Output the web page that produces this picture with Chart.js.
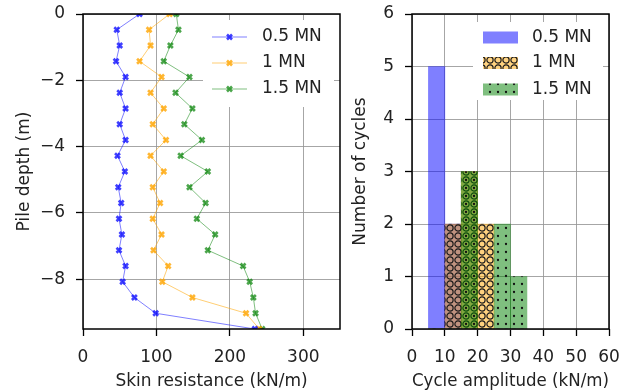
<!DOCTYPE html>
<html>
<head>
<meta charset="utf-8">
<script src="https://cdn.jsdelivr.net/npm/chart.js@4.4.0/dist/chart.umd.min.js"></script>
<style>
  body { margin: 0; background: #fff; }
  #wrap { position: relative; width: 628px; height: 392px; overflow: hidden; }
  canvas { position: absolute; top: 0; }
  #depthChart { left: 0; }
  #cycleChart { left: 350px; }
</style>
</head>
<body>
<div id="wrap">
  <canvas id="depthChart" width="350" height="392"></canvas>
  <canvas id="cycleChart" width="278" height="392"></canvas>
</div>
<script>
// Left panel: skin resistance profile along the pile
var pileDepths = [0, -0.475, -0.95, -1.425, -1.9, -2.375, -2.85, -3.325, -3.8, -4.275, -4.75,
    -5.225, -5.7, -6.175, -6.65, -7.125, -7.6, -8.075, -8.55, -9.025, -9.5];
var resist05 = [77, 46, 50, 45, 58, 50, 58, 50, 58, 47, 57, 48, 52, 49, 53, 49, 58, 54, 70, 99, 234];
var resist10 = [118, 90, 92, 77, 107, 92, 110, 95, 113, 92, 110, 95, 105, 95, 107, 96, 116, 108, 149, 222, 240];
var resist15 = [127, 130, 119, 110, 145, 126, 149, 138, 162, 133, 170, 145, 167, 155, 180, 170, 218, 227, 232, 235, 244];
var depthTicks = [-8, -6, -4, -2, 0];
var resistTicks = [0, 100, 200, 300];

// Right panel: histogram of cycle amplitudes
var binEdges = [5, 10, 15, 20, 25, 30, 35];
var cycles05 = [5, 2, 0, 0, 0, 0];
var cycles10 = [0, 2, 3, 2, 0, 0];
var cycles15 = [0, 0, 3, 0, 2, 1];
var cycleTicks = [0, 1, 2, 3, 4, 5, 6];
var amplitudeTicks = [0, 10, 20, 30, 40, 50, 60];

var loadLabels = ["0.5 MN", "1 MN", "1.5 MN"];

var FONT = "'DejaVu Sans', sans-serif";
var TEXT_COLOR = "#222";
var GRID_COLOR = "rgba(150,150,150,0.85)";

function toPoints(xs, ys) {
    var pts = [];
    for (var i = 0; i < xs.length; i++) {
        pts.push({ x: xs[i], y: ys[i] });
    }
    return pts;
}

function binCenters(edges) {
    var centers = [];
    for (var i = 0; i < edges.length - 1; i++) {
        centers.push((edges[i] + edges[i + 1]) / 2);
    }
    return centers;
}

function minusSign(v) {
    return String(v).replace("-", "\u2212");
}

function fixedTicks(list) {
    return function (scale) {
        scale.ticks = list.map(function (v) { return { value: v }; });
    };
}

// Fix the box size of an axis and drop the extra room Chart.js keeps for end labels.
function fixedSize(prop, size) {
    return function (scale) {
        scale[prop] = size;
        scale.paddingTop = 0;
        scale.paddingBottom = 0;
        scale.paddingLeft = 0;
        scale.paddingRight = 0;
    };
}

function axisOptions(min, max, ticks, title, titlePad, extra) {
    var o = {
        type: "linear",
        min: min,
        max: max,
        afterBuildTicks: fixedTicks(ticks),
        grid: { color: GRID_COLOR, lineWidth: 1, tickColor: "#000", tickLength: 7, tickWidth: 1.3, offset: false },
        border: { display: false },
        ticks: { color: TEXT_COLOR, font: { family: FONT, size: 17 }, padding: 11, callback: minusSign, maxRotation: 0 },
        title: { display: true, text: title, color: TEXT_COLOR, font: { family: FONT, size: 17 }, padding: titlePad }
    };
    for (var k in extra) { o[k] = extra[k]; }
    return o;
}

// Frame around the plot area, like matplotlib spines
var framePlugin = {
    id: "frame",
    afterDraw: function (chart) {
        var a = chart.chartArea;
        var ctx = chart.ctx;
        ctx.save();
        ctx.strokeStyle = "#000";
        ctx.lineWidth = 1.5;
        ctx.strokeRect(a.left, a.top, a.right - a.left, a.bottom - a.top);
        ctx.restore();
    }
};

// Legend drawn in the upper right of the plot area
var boxLegend = {
    id: "boxLegend",
    afterDatasetsDraw: function (chart, args, opts) {
        var ctx = chart.ctx;
        ctx.save();
        ctx.fillStyle = "#fff";
        ctx.fillRect(opts.box[0], opts.box[1], opts.box[2], opts.box[3]);
        ctx.font = "17px " + FONT;
        ctx.textBaseline = "middle";
        for (var i = 0; i < opts.items.length; i++) {
            var item = opts.items[i];
            var y = opts.rows[i];
            opts.drawKey(ctx, item, y);
            ctx.fillStyle = TEXT_COLOR;
            ctx.fillText(item.label, opts.textX, y);
        }
        ctx.restore();
    }
};

// ---------------- depth profile ----------------
var lineColors = ["rgba(0,0,255,0.5)", "rgba(255,165,0,0.55)", "rgba(0,128,0,0.5)"];
var markColors = ["rgba(0,0,255,0.75)", "rgba(255,165,0,0.8)", "rgba(0,128,0,0.7)"];
var resistSeries = [resist05, resist10, resist15];

var depthSets = [];
for (var s = 0; s < resistSeries.length; s++) {
    depthSets.push({
        label: loadLabels[s],
        data: toPoints(resistSeries[s], pileDepths),
        showLine: true,
        borderColor: lineColors[s],
        borderWidth: 1,
        pointStyle: "crossRot",
        pointRadius: 3.5,
        pointBorderWidth: 2.6,
        pointBorderColor: markColors[s],
        pointBackgroundColor: markColors[s]
    });
}

function drawLineKey(ctx, item, y) {
    ctx.strokeStyle = item.line;
    ctx.lineWidth = 1;
    ctx.beginPath();
    ctx.moveTo(212, y);
    ctx.lineTo(247, y);
    ctx.stroke();
    ctx.strokeStyle = item.mark;
    ctx.lineWidth = 2.6;
    ctx.beginPath();
    ctx.moveTo(227, y - 2.5); ctx.lineTo(232, y + 2.5);
    ctx.moveTo(227, y + 2.5); ctx.lineTo(232, y - 2.5);
    ctx.stroke();
}

var depthLegendItems = [];
for (var j = 0; j < loadLabels.length; j++) {
    depthLegendItems.push({ label: loadLabels[j], line: lineColors[j], mark: markColors[j] });
}

new Chart(document.getElementById("depthChart"), {
    type: "scatter",
    data: { datasets: depthSets },
    options: {
        responsive: false,
        animation: false,
        devicePixelRatio: 1,
        layout: { padding: { top: 14, right: 10, left: 0, bottom: 0 } },
        plugins: {
            legend: { display: false },
            tooltip: { enabled: false },
            boxLegend: {
                box: [203, 20, 131, 87],
                rows: [37, 63, 89],
                textX: 262,
                items: depthLegendItems,
                drawKey: drawLineKey
            }
        },
        scales: {
            x: axisOptions(0, 350, resistTicks, "Skin resistance (kN/m)", { top: 0, bottom: 0 }, {
                afterFit: fixedSize("height", 63)
            }),
            y: axisOptions(-9.5, 0, depthTicks, "Pile depth (m)", { top: 14, bottom: 0 }, {
                afterFit: fixedSize("width", 83)
            })
        }
    },
    plugins: [framePlugin, boxLegend]
});

// ---------------- cycle amplitude histogram ----------------
var cycleCanvas = document.getElementById("cycleChart");
var cycleCtx = cycleCanvas.getContext("2d");

function makeHatch(fill, drawMarks) {
    var tile = document.createElement("canvas");
    tile.width = 8;
    tile.height = 8;
    var c = tile.getContext("2d");
    c.fillStyle = fill;
    c.fillRect(0, 0, 8, 8);
    drawMarks(c);
    return cycleCtx.createPattern(tile, "repeat");
}

var blueFill = "rgba(0,0,255,0.5)";
var circleFill = makeHatch("rgba(255,165,0,0.5)", function (c) {
    c.strokeStyle = "#1a1a1a";
    c.lineWidth = 1.2;
    c.beginPath();
    c.arc(4, 4, 3.1, 0, Math.PI * 2);
    c.stroke();
});
var dotFill = makeHatch("rgba(0,128,0,0.5)", function (c) {
    c.fillStyle = "#111";
    c.beginPath();
    c.arc(4, 4, 1.15, 0, Math.PI * 2);
    c.fill();
});

var barFills = [blueFill, circleFill, dotFill];
var cycleSeries = [cycles05, cycles10, cycles15];
var centers = binCenters(binEdges);

var cycleSets = [];
for (var b = 0; b < cycleSeries.length; b++) {
    cycleSets.push({
        label: loadLabels[b],
        data: toPoints(centers, cycleSeries[b]),
        backgroundColor: barFills[b],
        borderWidth: 0,
        barPercentage: 1,
        categoryPercentage: 1,
        grouped: false,
        // first series is painted first, later ones on top
        order: cycleSeries.length - b
    });
}

var cycleLegendItems = [];
for (var m = 0; m < loadLabels.length; m++) {
    cycleLegendItems.push({ label: loadLabels[m], fill: barFills[m] });
}

new Chart(cycleCanvas, {
    type: "bar",
    data: { datasets: cycleSets },
    options: {
        responsive: false,
        animation: false,
        devicePixelRatio: 1,
        layout: { padding: { top: 14, right: 19, left: 0, bottom: 0 } },
        plugins: {
            legend: { display: false },
            tooltip: { enabled: false },
            boxLegend: {
                box: [123, 22, 130, 78],
                rows: [37.5, 63, 89.5],
                textX: 182,
                items: cycleLegendItems,
                drawKey: function (ctx, item, y) {
                    ctx.fillStyle = item.fill;
                    ctx.fillRect(133, y - 6, 35, 12);
                }
            }
        },
        scales: {
            x: axisOptions(0, 60, amplitudeTicks, "Cycle amplitude (kN/m)", { top: 0, bottom: 0 }, {
                offset: false,
                afterFit: fixedSize("height", 63)
            }),
            y: axisOptions(0, 6, cycleTicks, "Number of cycles", { top: 0, bottom: 0 }, {
                afterFit: fixedSize("width", 62)
            })
        }
    },
    plugins: [framePlugin, boxLegend]
});
</script>
</body>
</html>
